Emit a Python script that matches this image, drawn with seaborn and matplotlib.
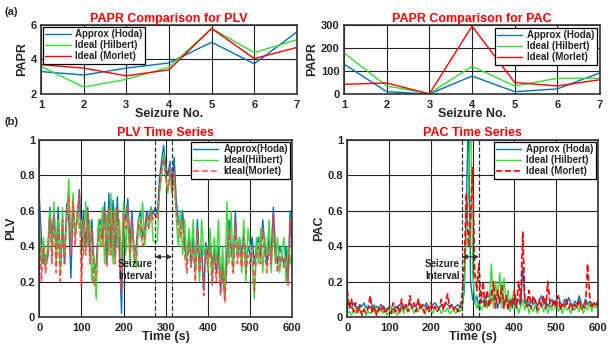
import numpy as np
import pandas as pd
import matplotlib
matplotlib.use("Agg")
import matplotlib.pyplot as plt
import seaborn as sns

# ---------------- data ----------------
seizure_no = [1, 2, 3, 4, 5, 6, 7]
papr_plv_approx = [3.3, 3.1, 3.5, 3.8, 5.0, 3.75, 5.6]
papr_plv_hilbert = [3.6, 2.4, 2.85, 3.55, 5.8, 4.4, 5.15]
papr_plv_morlet = [3.7, 3.5, 3.05, 3.4, 5.8, 4.05, 4.7]

papr_pac_approx = [130, 10, 0, 78, 10, 22, 92]
papr_pac_hilbert = [178, 35, 2, 120, 35, 68, 68]
papr_pac_morlet = [42, 48, 0, 295, 50, 35, 62]

time_s = list(range(0, 601, 5))

plv_approx = [0.68,0.45,0.30,0.35,0.33,0.62,0.45,0.60,0.35,0.62,
              0.30,0.50,0.30,0.64,0.55,0.22,0.62,0.50,0.55,0.72,
              0.45,0.60,0.40,0.62,0.35,0.55,0.25,0.30,0.50,0.55,
              0.45,0.65,0.30,0.70,0.40,0.66,0.35,0.68,0.40,0.02,
              0.60,0.55,0.67,0.40,0.60,0.35,0.40,0.55,0.60,0.45,
              0.50,0.60,0.55,0.62,0.58,0.62,0.58,0.78,0.88,0.97,
              0.85,0.80,0.88,0.75,0.90,0.65,0.55,0.50,0.60,0.40,
              0.30,0.48,0.30,0.45,0.25,0.55,0.30,0.40,0.15,0.42,
              0.35,0.45,0.30,0.38,0.25,0.40,0.15,0.30,0.10,0.35,
              0.55,0.40,0.30,0.60,0.35,0.45,0.35,0.50,0.30,0.40,
              0.35,0.45,0.30,0.40,0.45,0.35,0.55,0.40,0.30,0.45,
              0.35,0.62,0.40,0.30,0.40,0.35,0.30,0.40,0.20,0.60,
              0.35]
plv_hilbert = [0.55,0.30,0.45,0.28,0.40,0.60,0.35,0.65,0.30,0.55,
               0.25,0.62,0.35,0.55,0.78,0.40,0.70,0.45,0.60,0.50,
               0.55,0.35,0.65,0.40,0.55,0.20,0.35,0.10,0.55,0.40,
               0.62,0.30,0.58,0.35,0.70,0.30,0.62,0.40,0.55,0.30,
               0.65,0.35,0.60,0.30,0.50,0.40,0.28,0.55,0.45,0.65,
               0.40,0.55,0.50,0.62,0.43,0.42,0.43,0.70,0.80,0.93,
               0.78,0.70,0.82,0.70,0.80,0.55,0.40,0.60,0.35,0.55,
               0.30,0.50,0.35,0.55,0.25,0.45,0.20,0.55,0.35,0.40,
               0.25,0.50,0.20,0.45,0.30,0.55,0.20,0.40,0.12,0.65,
               0.30,0.60,0.25,0.50,0.35,0.45,0.25,0.55,0.20,0.50,
               0.40,0.30,0.10,0.45,0.30,0.50,0.25,0.45,0.35,0.55,
               0.25,0.50,0.30,0.45,0.25,0.35,0.45,0.20,0.40,0.30,
               0.40]
plv_morlet = [0.60,0.20,0.40,0.25,0.35,0.55,0.30,0.58,0.25,0.50,
              0.20,0.55,0.30,0.58,0.68,0.35,0.65,0.40,0.58,0.70,
              0.18,0.55,0.35,0.60,0.30,0.50,0.18,0.25,0.45,0.50,
              0.40,0.60,0.28,0.62,0.35,0.60,0.30,0.62,0.35,0.15,
              0.58,0.50,0.62,0.35,0.55,0.30,0.35,0.50,0.55,0.40,
              0.45,0.58,0.50,0.60,0.55,0.58,0.55,0.72,0.82,0.90,
              0.80,0.72,0.85,0.70,0.82,0.60,0.50,0.45,0.55,0.35,
              0.25,0.42,0.28,0.40,0.20,0.50,0.25,0.35,0.12,0.38,
              0.30,0.40,0.18,0.35,0.20,0.35,0.12,0.28,0.08,0.30,
              0.50,0.35,0.25,0.55,0.30,0.40,0.28,0.45,0.25,0.35,
              0.30,0.40,0.15,0.35,0.40,0.30,0.50,0.35,0.25,0.40,
              0.30,0.58,0.35,0.25,0.35,0.30,0.28,0.35,0.18,0.55,
              0.30]

pac_approx = [0.06,0.07,0.05,0.08,0.06,0.05,0.07,0.06,0.08,0.05,
              0.06,0.05,0.07,0.04,0.06,0.05,0.07,0.06,0.05,0.04,
              0.06,0.05,0.04,0.06,0.05,0.07,0.06,0.04,0.05,0.06,
              0.08,0.05,0.07,0.06,0.09,0.05,0.07,0.06,0.08,0.05,
              0.06,0.07,0.08,0.06,0.05,0.07,0.06,0.08,0.07,0.06,
              0.07,0.05,0.06,0.07,0.05,0.06,0.15,0.60,1.20,0.20,
              0.10,0.08,0.12,0.05,0.10,0.08,0.12,0.06,0.10,0.15,
              0.08,0.12,0.05,0.10,0.14,0.06,0.12,0.08,0.10,0.05,
              0.12,0.08,0.10,0.06,0.28,0.08,0.10,0.06,0.09,0.07,
              0.10,0.06,0.09,0.12,0.07,0.10,0.06,0.08,0.10,0.07,
              0.09,0.12,0.08,0.06,0.10,0.07,0.11,0.08,0.06,0.09,
              0.07,0.12,0.08,0.06,0.10,0.07,0.09,0.06,0.08,0.07,
              0.09]
pac_hilbert = [0.02,0.03,0.01,0.04,0.02,0.06,0.03,0.02,0.05,0.01,
               0.03,0.02,0.04,0.07,0.02,0.03,0.05,0.02,0.04,0.01,
               0.03,0.06,0.02,0.04,0.01,0.03,0.05,0.02,0.07,0.03,
               0.04,0.06,0.02,0.05,0.03,0.07,0.04,0.02,0.05,0.03,
               0.04,0.02,0.06,0.03,0.05,0.02,0.04,0.03,0.05,0.02,
               0.03,0.04,0.02,0.05,0.03,0.04,0.20,0.45,0.70,1.20,
               0.25,0.10,0.05,0.08,0.04,0.06,0.10,0.05,0.08,0.30,
               0.05,0.20,0.10,0.25,0.05,0.22,0.08,0.15,0.03,0.12,
               0.05,0.08,0.02,0.06,0.10,0.04,0.08,0.02,0.06,0.03,
               0.07,0.02,0.05,0.08,0.03,0.06,0.02,0.07,0.04,0.05,
               0.08,0.03,0.06,0.02,0.07,0.04,0.05,0.02,0.06,0.04,
               0.07,0.03,0.08,0.02,0.06,0.04,0.08,0.03,0.07,0.05,
               0.09]
pac_morlet = [0.15,0.05,0.10,0.03,0.08,0.02,0.06,0.01,0.04,0.02,
              0.05,0.12,0.02,0.06,0.01,0.05,0.03,0.07,0.02,0.04,
              0.05,0.02,0.08,0.03,0.06,0.02,0.10,0.04,0.07,0.03,
              0.12,0.05,0.08,0.03,0.10,0.04,0.07,0.02,0.06,0.03,
              0.08,0.04,0.06,0.03,0.05,0.10,0.04,0.08,0.13,0.05,
              0.07,0.04,0.06,0.03,0.05,0.12,0.30,0.70,0.40,0.55,
              0.85,0.25,0.15,0.30,0.08,0.20,0.05,0.15,0.06,0.10,
              0.20,0.05,0.15,0.08,0.18,0.05,0.12,0.04,0.10,0.06,
              0.15,0.05,0.20,0.08,0.48,0.10,0.06,0.15,0.05,0.12,
              0.08,0.04,0.10,0.06,0.12,0.05,0.20,0.08,0.06,0.10,
              0.05,0.12,0.04,0.08,0.06,0.10,0.05,0.08,0.04,0.07,
              0.05,0.10,0.04,0.06,0.05,0.30,0.12,0.05,0.08,0.06,
              0.09]

seizure_start, seizure_end = 275, 315

# ---------------- style ----------------
sns.set_style("whitegrid")
plt.rcParams['font.family'] = ['Liberation Sans', 'DejaVu Sans']
plt.rcParams['font.weight'] = 'bold'
plt.rcParams['axes.labelweight'] = 'bold'

BLUE = "#0072BD"
GREEN = "#33DD33"
RED = "#FF0000"

fig = plt.figure(figsize=(6.08, 3.48), dpi=100)
ax1 = fig.add_axes([0.0674, 0.7299, 0.4211, 0.1983])
ax2 = fig.add_axes([0.5658, 0.7299, 0.4211, 0.1983])
ax3 = fig.add_axes([0.0646, 0.0891, 0.4161, 0.5086])
ax4 = fig.add_axes([0.5712, 0.0891, 0.4123, 0.5086])


def style_axes(ax):
    ax.set_facecolor("white")
    ax.grid(True, color="#222222", linewidth=0.8)
    for s in ax.spines.values():
        s.set_color("#333333")
        s.set_linewidth(1.2)
    ax.tick_params(axis="x", labelsize=8, pad=4, length=0)
    ax.tick_params(axis="y", labelsize=8, pad=3, length=0)
    for lab in ax.get_xticklabels() + ax.get_yticklabels():
        lab.set_fontweight("bold")


def make_legend(ax, loc, pad):
    leg = ax.legend(loc=loc, fontsize=7, frameon=True, fancybox=False, handlelength=2.6,
                    borderpad=0.25, labelspacing=0.1, handletextpad=0.5, borderaxespad=pad)
    leg.get_frame().set_edgecolor("black")
    leg.get_frame().set_linewidth(0.9)
    leg.get_frame().set_alpha(1)


# ---- top left ----
sns.lineplot(x=seizure_no, y=papr_plv_approx, ax=ax1, color=BLUE, lw=1, label="Approx (Hoda)")
sns.lineplot(x=seizure_no, y=papr_plv_hilbert, ax=ax1, color=GREEN, lw=1, label="Ideal (Hilbert)")
sns.lineplot(x=seizure_no, y=papr_plv_morlet, ax=ax1, color=RED, lw=1, label="Ideal (Morlet)")
ax1.set_xlim(1, 7)
ax1.set_ylim(2, 6)
ax1.set_xticks(seizure_no)
ax1.set_yticks([2, 4, 6])
ax1.set_xlabel("Seizure No.", fontsize=9, labelpad=-1)
ax1.set_ylabel("PAPR", fontsize=9, labelpad=2)
ax1.set_title("PAPR Comparison for PLV", color=RED, fontsize=9, fontweight="bold", pad=2)
style_axes(ax1)
make_legend(ax1, "upper left", 0.2)

# ---- top right ----
sns.lineplot(x=seizure_no, y=papr_pac_approx, ax=ax2, color=BLUE, lw=1, label="Approx (Hoda)")
sns.lineplot(x=seizure_no, y=papr_pac_hilbert, ax=ax2, color=GREEN, lw=1, label="Ideal (Hilbert)")
sns.lineplot(x=seizure_no, y=papr_pac_morlet, ax=ax2, color=RED, lw=1, label="Ideal (Morlet)")
ax2.set_xlim(1, 7)
ax2.set_ylim(0, 300)
ax2.set_xticks(seizure_no)
ax2.set_yticks([0, 100, 200, 300])
ax2.set_xlabel("Seizure No.", fontsize=9, labelpad=-1)
ax2.set_ylabel("PAPR", fontsize=9, labelpad=2)
ax2.set_title("PAPR Comparison for PAC", color=RED, fontsize=9, fontweight="bold", pad=2)
style_axes(ax2)
make_legend(ax2, "upper right", 0.3)

# ---- bottom left ----
sns.lineplot(x=time_s, y=plv_approx, ax=ax3, color=BLUE, lw=1, label="Approx(Hoda)")
sns.lineplot(x=time_s, y=plv_hilbert, ax=ax3, color=GREEN, lw=1, label="Ideal(Hilbert)")
sns.lineplot(x=time_s, y=plv_morlet, ax=ax3, color="#FF4040", lw=1.2, ls="--", alpha=0.85,
             label="Ideal(Morlet)")
ax3.set_xlim(0, 600)
ax3.set_ylim(0, 1)
ax3.set_xticks(range(0, 601, 100))
ax3.set_yticks([0, 0.2, 0.4, 0.6, 0.8, 1])
ax3.set_yticklabels(["0", "0.2", "0.4", "0.6", "0.8", "1"])
ax3.set_xlabel("Time (s)", fontsize=9, labelpad=-1)
ax3.set_ylabel("PLV", fontsize=9, labelpad=2)
ax3.set_title("PLV Time Series", color=RED, fontsize=9, fontweight="bold", pad=3)
style_axes(ax3)
make_legend(ax3, "upper right", 0.2)

# ---- bottom right ----
sns.lineplot(x=time_s, y=pac_approx, ax=ax4, color=BLUE, lw=1, label="Approx (Hoda)")
sns.lineplot(x=time_s, y=pac_hilbert, ax=ax4, color=GREEN, lw=1, label="Ideal (Hilbert)")
sns.lineplot(x=time_s, y=pac_morlet, ax=ax4, color=RED, lw=1.2, ls="--", label="Ideal (Morlet)")
ax4.set_xlim(0, 600)
ax4.set_ylim(0, 1)
ax4.set_xticks(range(0, 601, 100))
ax4.set_yticks([0, 0.2, 0.4, 0.6, 0.8, 1])
ax4.set_yticklabels(["0", "0.2", "0.4", "0.6", "0.8", "1"])
ax4.set_xlabel("Time (s)", fontsize=9, labelpad=-1)
ax4.set_ylabel("PAC", fontsize=9, labelpad=2)
ax4.set_title("PAC Time Series", color=RED, fontsize=9, fontweight="bold", pad=3)
style_axes(ax4)
make_legend(ax4, "upper right", 0.2)

# seizure interval markers
for ax in (ax3, ax4):
    ax.axvline(seizure_start, color="#333333", ls="--", lw=0.9, zorder=5)
    ax.axvline(seizure_end, color="#333333", ls="--", lw=0.9, zorder=5)
    ax.annotate("", xy=(seizure_start, 0.34), xytext=(seizure_end, 0.34),
                arrowprops=dict(arrowstyle="<|-|>", color="#333333", lw=0.8,
                                facecolor="white", mutation_scale=7,
                                shrinkA=0, shrinkB=0), zorder=6)
    ax.text(seizure_start - 5, 0.265, "Seizure\nInterval", fontsize=7, ha="right", va="center",
            fontweight="bold", linespacing=1.3, zorder=6)

fig.text(0.008, 0.965, "(a)", fontsize=8, fontweight="bold", va="center")
fig.text(0.008, 0.648, "(b)", fontsize=8, fontweight="bold", va="center")

fig.savefig("out.png", dpi=100, facecolor="white")
